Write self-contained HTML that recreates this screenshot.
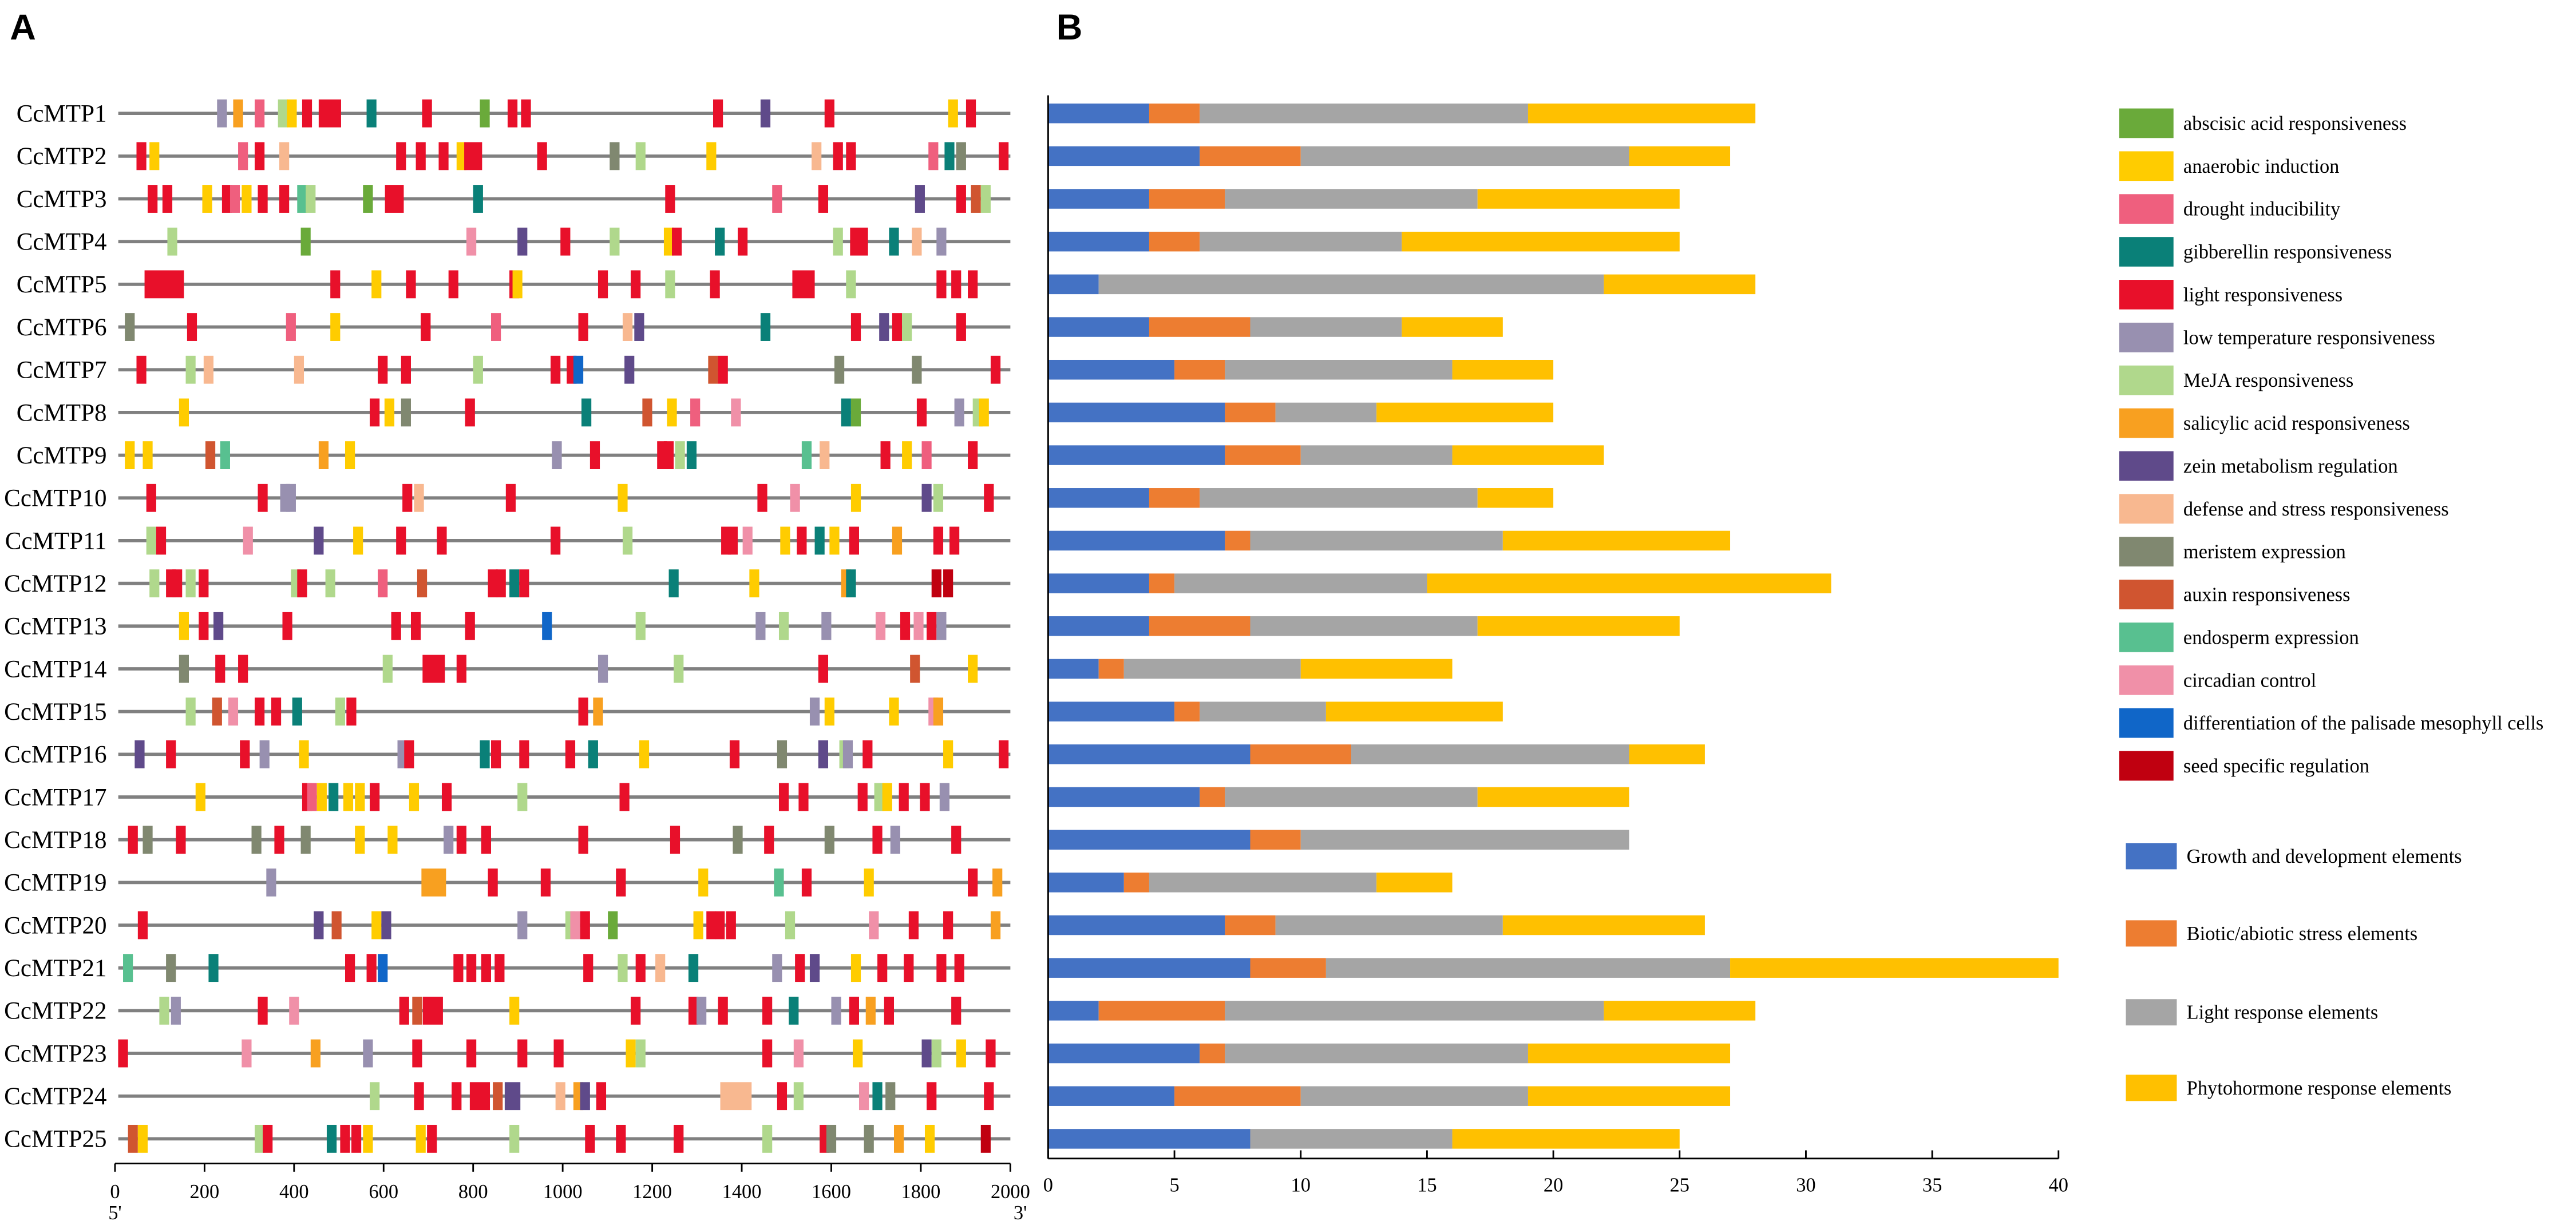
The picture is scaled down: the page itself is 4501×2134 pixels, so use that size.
<!DOCTYPE html>
<html><head><meta charset="utf-8"><style>
html,body{margin:0;padding:0;background:#fff;}
svg{display:block;}
text{font-family:"Liberation Serif",serif;fill:#000;}
</style></head><body>
<svg id="chart" width="4501" height="2134" viewBox="0 0 1568 743" preserveAspectRatio="none" xmlns="http://www.w3.org/2000/svg">
<text x="6" y="24" style="font-family:'Liberation Sans',sans-serif;font-weight:bold;font-size:22px">A</text>
<text x="643" y="24" style="font-family:'Liberation Sans',sans-serif;font-weight:bold;font-size:22px">B</text>
<g id="pa"></g>
<g id="pb"></g>
<g id="lg"></g>
</svg>
<script>
const genes=["CcMTP1","CcMTP2","CcMTP3","CcMTP4","CcMTP5","CcMTP6","CcMTP7","CcMTP8","CcMTP9","CcMTP10","CcMTP11","CcMTP12","CcMTP13","CcMTP14","CcMTP15","CcMTP16","CcMTP17","CcMTP18","CcMTP19","CcMTP20","CcMTP21","CcMTP22","CcMTP23","CcMTP24","CcMTP25"];
const elemTypes=["a","n","d","g","l","t","m","s","z","f","e","x","o","c","p","r"];
const elemNames=["abscisic acid responsiveness","anaerobic induction","drought inducibility","gibberellin responsiveness","light responsiveness","low temperature responsiveness","MeJA responsiveness","salicylic acid responsiveness","zein metabolism regulation","defense and stress responsiveness","meristem expression","auxin responsiveness","endosperm expression","circadian control","differentiation of the palisade mesophyll cells","seed specific regulation"];
const elemColors={a:"#6aaa3a",n:"#ffcc00",d:"#ef5f7e",g:"#0a8078",l:"#e8102a",t:"#9890b0",m:"#b0d88c",s:"#f8a020",z:"#5f4a8a",f:"#f8b890",e:"#808870",x:"#d05530",o:"#58c090",c:"#f090a8",p:"#1066c8",r:"#c00010"};
// positions (bp) and element type per gene; optional width in bp
const sites=[
[[239,"t"],[275,"s"],[323,"d"],[375,"m"],[395,"n"],[429,"l"],[480,"l",50],[573,"g"],[697,"l"],[826,"a"],[888,"l"],[918,"l"],[1347,"l"],[1453,"z"],[1596,"l"],[1872,"n"],[1912,"l"]],
[[59,"l"],[88,"n"],[286,"d"],[323,"l"],[378,"f"],[639,"l"],[683,"l"],[734,"l"],[774,"n"],[800,"l",40],[954,"l"],[1116,"e"],[1174,"m"],[1332,"n"],[1567,"f"],[1615,"l"],[1644,"l"],[1828,"d"],[1864,"g"],[1890,"e"],[1985,"l"]],
[[84,"l"],[117,"l"],[206,"n"],[250,"l"],[268,"d"],[294,"n"],[330,"l"],[378,"l"],[418,"o"],[437,"m"],[565,"a"],[624,"l",42],[811,"g"],[1240,"l"],[1479,"d"],[1582,"l"],[1798,"z"],[1890,"l"],[1923,"x"],[1945,"m"]],
[[128,"m"],[426,"a"],[796,"c"],[910,"z"],[1006,"l"],[1116,"m"],[1237,"n"],[1255,"l"],[1351,"g"],[1402,"l"],[1615,"m"],[1662,"l",40],[1740,"g"],[1791,"f"],[1846,"t"]],
[[110,"l",88],[492,"l"],[584,"n"],[661,"l"],[756,"l"],[892,"l"],[899,"n"],[1090,"l"],[1163,"l"],[1240,"m"],[1340,"l"],[1538,"l",50],[1644,"m"],[1846,"l"],[1879,"l"],[1916,"l"]],
[[33,"e"],[172,"l"],[393,"d"],[492,"n"],[694,"l"],[851,"d"],[1046,"l"],[1145,"f"],[1171,"z"],[1453,"g"],[1655,"l"],[1718,"z"],[1747,"l"],[1769,"m"],[1890,"l"]],
[[59,"l"],[169,"m"],[209,"f"],[411,"f"],[598,"l"],[650,"l"],[811,"m"],[984,"l"],[1020,"l"],[1035,"p"],[1149,"z"],[1336,"x"],[1358,"l"],[1618,"e"],[1791,"e"],[1967,"l"]],
[[154,"n"],[580,"l"],[613,"n"],[650,"e"],[793,"l"],[1053,"g"],[1189,"x"],[1244,"n"],[1296,"d"],[1387,"c"],[1633,"g"],[1655,"a"],[1802,"l"],[1886,"t"],[1927,"m"],[1941,"n"]],
[[33,"n"],[73,"n"],[213,"x"],[246,"o"],[466,"s"],[525,"n"],[987,"t"],[1072,"l"],[1222,"l"],[1237,"l"],[1262,"m"],[1288,"g"],[1545,"o"],[1585,"f"],[1721,"l"],[1769,"n"],[1813,"d"],[1916,"l"]],
[[81,"l"],[330,"l"],[380,"t"],[393,"t"],[653,"l"],[679,"f"],[884,"l"],[1134,"n"],[1446,"l"],[1519,"c"],[1655,"n"],[1813,"z"],[1839,"m"],[1952,"l"]],
[[81,"m"],[103,"l"],[297,"c"],[455,"z"],[543,"n"],[639,"l"],[730,"l"],[984,"l"],[1145,"m"],[1365,"l"],[1380,"l"],[1413,"c"],[1497,"n"],[1534,"l"],[1574,"g"],[1607,"n"],[1651,"l"],[1747,"s"],[1839,"l"],[1875,"l"]],
[[88,"m"],[125,"l"],[139,"l"],[169,"m"],[198,"l"],[404,"m"],[418,"l"],[481,"m"],[598,"d"],[686,"x"],[844,"l"],[862,"l"],[892,"g"],[914,"l"],[1248,"g"],[1428,"n"],[1633,"s"],[1644,"g"],[1835,"r"],[1861,"r"]],
[[154,"n"],[198,"l"],[231,"z"],[385,"l"],[628,"l"],[672,"l"],[793,"l"],[965,"p"],[1174,"m"],[1442,"t"],[1494,"m"],[1589,"t"],[1710,"c"],[1765,"l"],[1795,"c"],[1824,"l"],[1846,"t"]],
[[154,"e"],[235,"l"],[286,"l"],[609,"m"],[712,"l",50],[774,"l"],[1090,"t"],[1259,"m"],[1582,"l"],[1787,"x"],[1916,"n"]],
[[169,"m"],[228,"x"],[264,"c"],[323,"l"],[360,"l"],[407,"g"],[503,"m"],[528,"l"],[1046,"l"],[1079,"s"],[1563,"t"],[1596,"n"],[1740,"n"],[1828,"c"],[1839,"s"]],
[[55,"z"],[125,"l"],[290,"l"],[334,"t"],[422,"n"],[642,"t"],[657,"l"],[826,"g"],[851,"l"],[914,"l"],[1017,"l"],[1068,"g"],[1182,"n"],[1384,"l"],[1490,"e"],[1582,"z"],[1629,"m"],[1637,"t"],[1681,"l"],[1861,"n"],[1985,"l"]],
[[191,"n"],[429,"l"],[440,"d"],[462,"n"],[488,"g"],[521,"n"],[547,"n"],[580,"l"],[668,"n"],[741,"l"],[910,"m"],[1138,"l"],[1494,"l"],[1538,"l"],[1670,"l"],[1707,"m"],[1725,"n"],[1762,"l"],[1809,"l"],[1853,"t"]],
[[40,"l"],[73,"e"],[147,"l"],[316,"e"],[367,"l"],[426,"e"],[547,"n"],[620,"n"],[745,"t"],[774,"l"],[829,"l"],[1046,"l"],[1251,"l"],[1391,"e"],[1461,"l"],[1596,"e"],[1703,"l"],[1743,"t"],[1879,"l"]],
[[349,"t"],[712,"s",55],[844,"l"],[962,"l"],[1130,"l"],[1314,"n"],[1483,"o"],[1545,"l"],[1684,"n"],[1916,"l"],[1971,"s"]],
[[62,"l"],[455,"z"],[495,"x"],[584,"n"],[606,"z"],[910,"t"],[1017,"m"],[1028,"c"],[1050,"l"],[1112,"a"],[1303,"n"],[1332,"l"],[1351,"l"],[1376,"l"],[1508,"m"],[1695,"c"],[1784,"l"],[1861,"l"],[1967,"s"]],
[[29,"o"],[125,"e"],[220,"g"],[525,"l"],[573,"l"],[598,"p"],[767,"l"],[796,"l"],[829,"l"],[859,"l"],[1057,"l"],[1134,"m"],[1174,"l"],[1218,"f"],[1292,"g"],[1479,"t"],[1530,"l"],[1563,"z"],[1655,"n"],[1714,"l"],[1773,"l"],[1846,"l"],[1886,"l"]],
[[110,"m"],[136,"t"],[330,"l"],[400,"c"],[646,"l"],[675,"x"],[710,"l",45],[892,"n"],[1163,"l"],[1292,"l"],[1310,"t"],[1358,"l"],[1457,"l"],[1516,"g"],[1611,"t"],[1651,"l"],[1688,"s"],[1729,"l"],[1879,"l"]],
[[18,"l"],[294,"c"],[448,"s"],[565,"t"],[675,"l"],[796,"l"],[910,"l"],[991,"l"],[1152,"n"],[1174,"m"],[1457,"l"],[1527,"c"],[1659,"n"],[1813,"z"],[1835,"m"],[1890,"n"],[1956,"l"]],
[[580,"m"],[679,"l"],[763,"l"],[815,"l",45],[855,"x"],[888,"z",35],[995,"f"],[1035,"s"],[1050,"z"],[1086,"l"],[1387,"f",70],[1490,"l"],[1527,"m"],[1673,"c"],[1703,"g"],[1732,"e"],[1824,"l"],[1952,"l"]],
[[40,"x"],[62,"n"],[323,"m"],[341,"l"],[484,"g"],[514,"l"],[539,"l"],[565,"n"],[683,"n"],[708,"l"],[892,"m"],[1061,"l"],[1130,"l"],[1259,"l"],[1457,"m"],[1585,"l"],[1600,"e"],[1684,"e"],[1751,"s"],[1820,"n"],[1945,"r"]]
];
const bpTicks=[0,200,400,600,800,1000,1200,1400,1600,1800,2000];
const growth=[4,6,4,4,2,4,5,7,7,4,7,4,4,2,5,8,6,8,3,7,8,2,6,5,8];
const stress=[2,4,3,2,0,4,2,2,3,2,1,1,4,1,1,4,1,2,1,2,3,5,1,5,0];
const lightResp=[13,13,10,8,20,6,9,4,6,11,10,10,9,7,5,11,10,13,9,9,16,15,12,9,8];
const phyto=[9,4,8,11,6,4,4,7,6,3,9,16,8,6,7,3,6,0,3,8,13,6,8,8,9];
const countTicks=[0,5,10,15,20,25,30,35,40];
const seriesNames=["Growth and development elements","Biotic/abiotic stress elements","Light response elements","Phytohormone response elements"];
const seriesColors=["#4472c4","#ed7d31","#a5a5a5","#ffc000"];

const NS="http://www.w3.org/2000/svg";
function mk(tag,attrs,parent){const e=document.createElementNS(NS,tag);for(const k in attrs)e.setAttribute(k,attrs[k]);parent.appendChild(e);return e;}
const rowY=i=>69+i*26;
const xA=bp=>70+bp*(545/2000);
const xB=v=>638+v*(615/40);
const pa=document.getElementById('pa'),pb=document.getElementById('pb'),lg=document.getElementById('lg');

genes.forEach((g,i)=>{
  const y=rowY(i);
  const t=mk('text',{x:65,y:y+5,'text-anchor':'end','font-size':15},pa);
  t.textContent=g;
  
  
  const ln=mk('line',{x1:72,x2:615,y1:y,y2:y,stroke:'#808080','stroke-width':2},pa);
  
  
  sites[i].forEach(s=>{
    const w=s[2]||22;
    const r=mk('rect',{x:xA(s[0]-w/2),y:y-8.5,width:xA(w)-70,height:17,fill:elemColors[s[1]]},pa);
    
    
  });
  // stacked bars
  const vals=[growth[i],stress[i],lightResp[i],phyto[i]];
  let acc=0;
  vals.forEach((v,k)=>{
    if(v>0){
      const b=mk('rect',{x:xB(acc),y:y-6,width:xB(acc+v)-xB(acc),height:12,fill:seriesColors[k]},pb);
      
      
    }
    acc+=v;
  });
});
// axis A
const axA=mk('line',{x1:70,x2:615,y1:708,y2:708,stroke:'#000','stroke-width':1},pa);


bpTicks.forEach(v=>{
  mk('line',{x1:xA(v),x2:xA(v),y1:708,y2:713,stroke:'#000','stroke-width':1},pa);
  const t=mk('text',{x:xA(v),y:729,'text-anchor':'middle','font-size':12},pa);
  t.textContent=v;
  
  
});
const t5=mk('text',{x:70,y:742,'text-anchor':'middle','font-size':12},pa);t5.textContent="5'";


const t3=mk('text',{x:621,y:742,'text-anchor':'middle','font-size':12},pa);t3.textContent="3'";


// axis B
const ayB=mk('line',{x1:638,x2:638,y1:58,y2:705,stroke:'#000','stroke-width':1},pb);


const axB=mk('line',{x1:638,x2:1253,y1:705,y2:705,stroke:'#000','stroke-width':1},pb);


countTicks.forEach(v=>{
  mk('line',{x1:xB(v),x2:xB(v),y1:700,y2:705,stroke:'#000','stroke-width':1},pb);
  const t=mk('text',{x:xB(v),y:725,'text-anchor':'middle','font-size':12},pb);
  t.textContent=v;
  
  
});
// legend
elemTypes.forEach((k,i)=>{
  const y=75+i*26.07;
  const r=mk('rect',{x:1290,y:y-9,width:33,height:18,fill:elemColors[k]},lg);
  
  
  const t=mk('text',{x:1329,y:y+4,'font-size':12},lg);
  t.textContent=elemNames[i];
  
  
});
const sy=[521,568,616,662];
seriesNames.forEach((n,i)=>{
  const r=mk('rect',{x:1294,y:sy[i]-8,width:31,height:16,fill:seriesColors[i]},lg);
  
  
  const t=mk('text',{x:1331,y:sy[i]+4,'font-size':12},lg);
  t.textContent=n;
  
  
});
</script>
</body></html>
